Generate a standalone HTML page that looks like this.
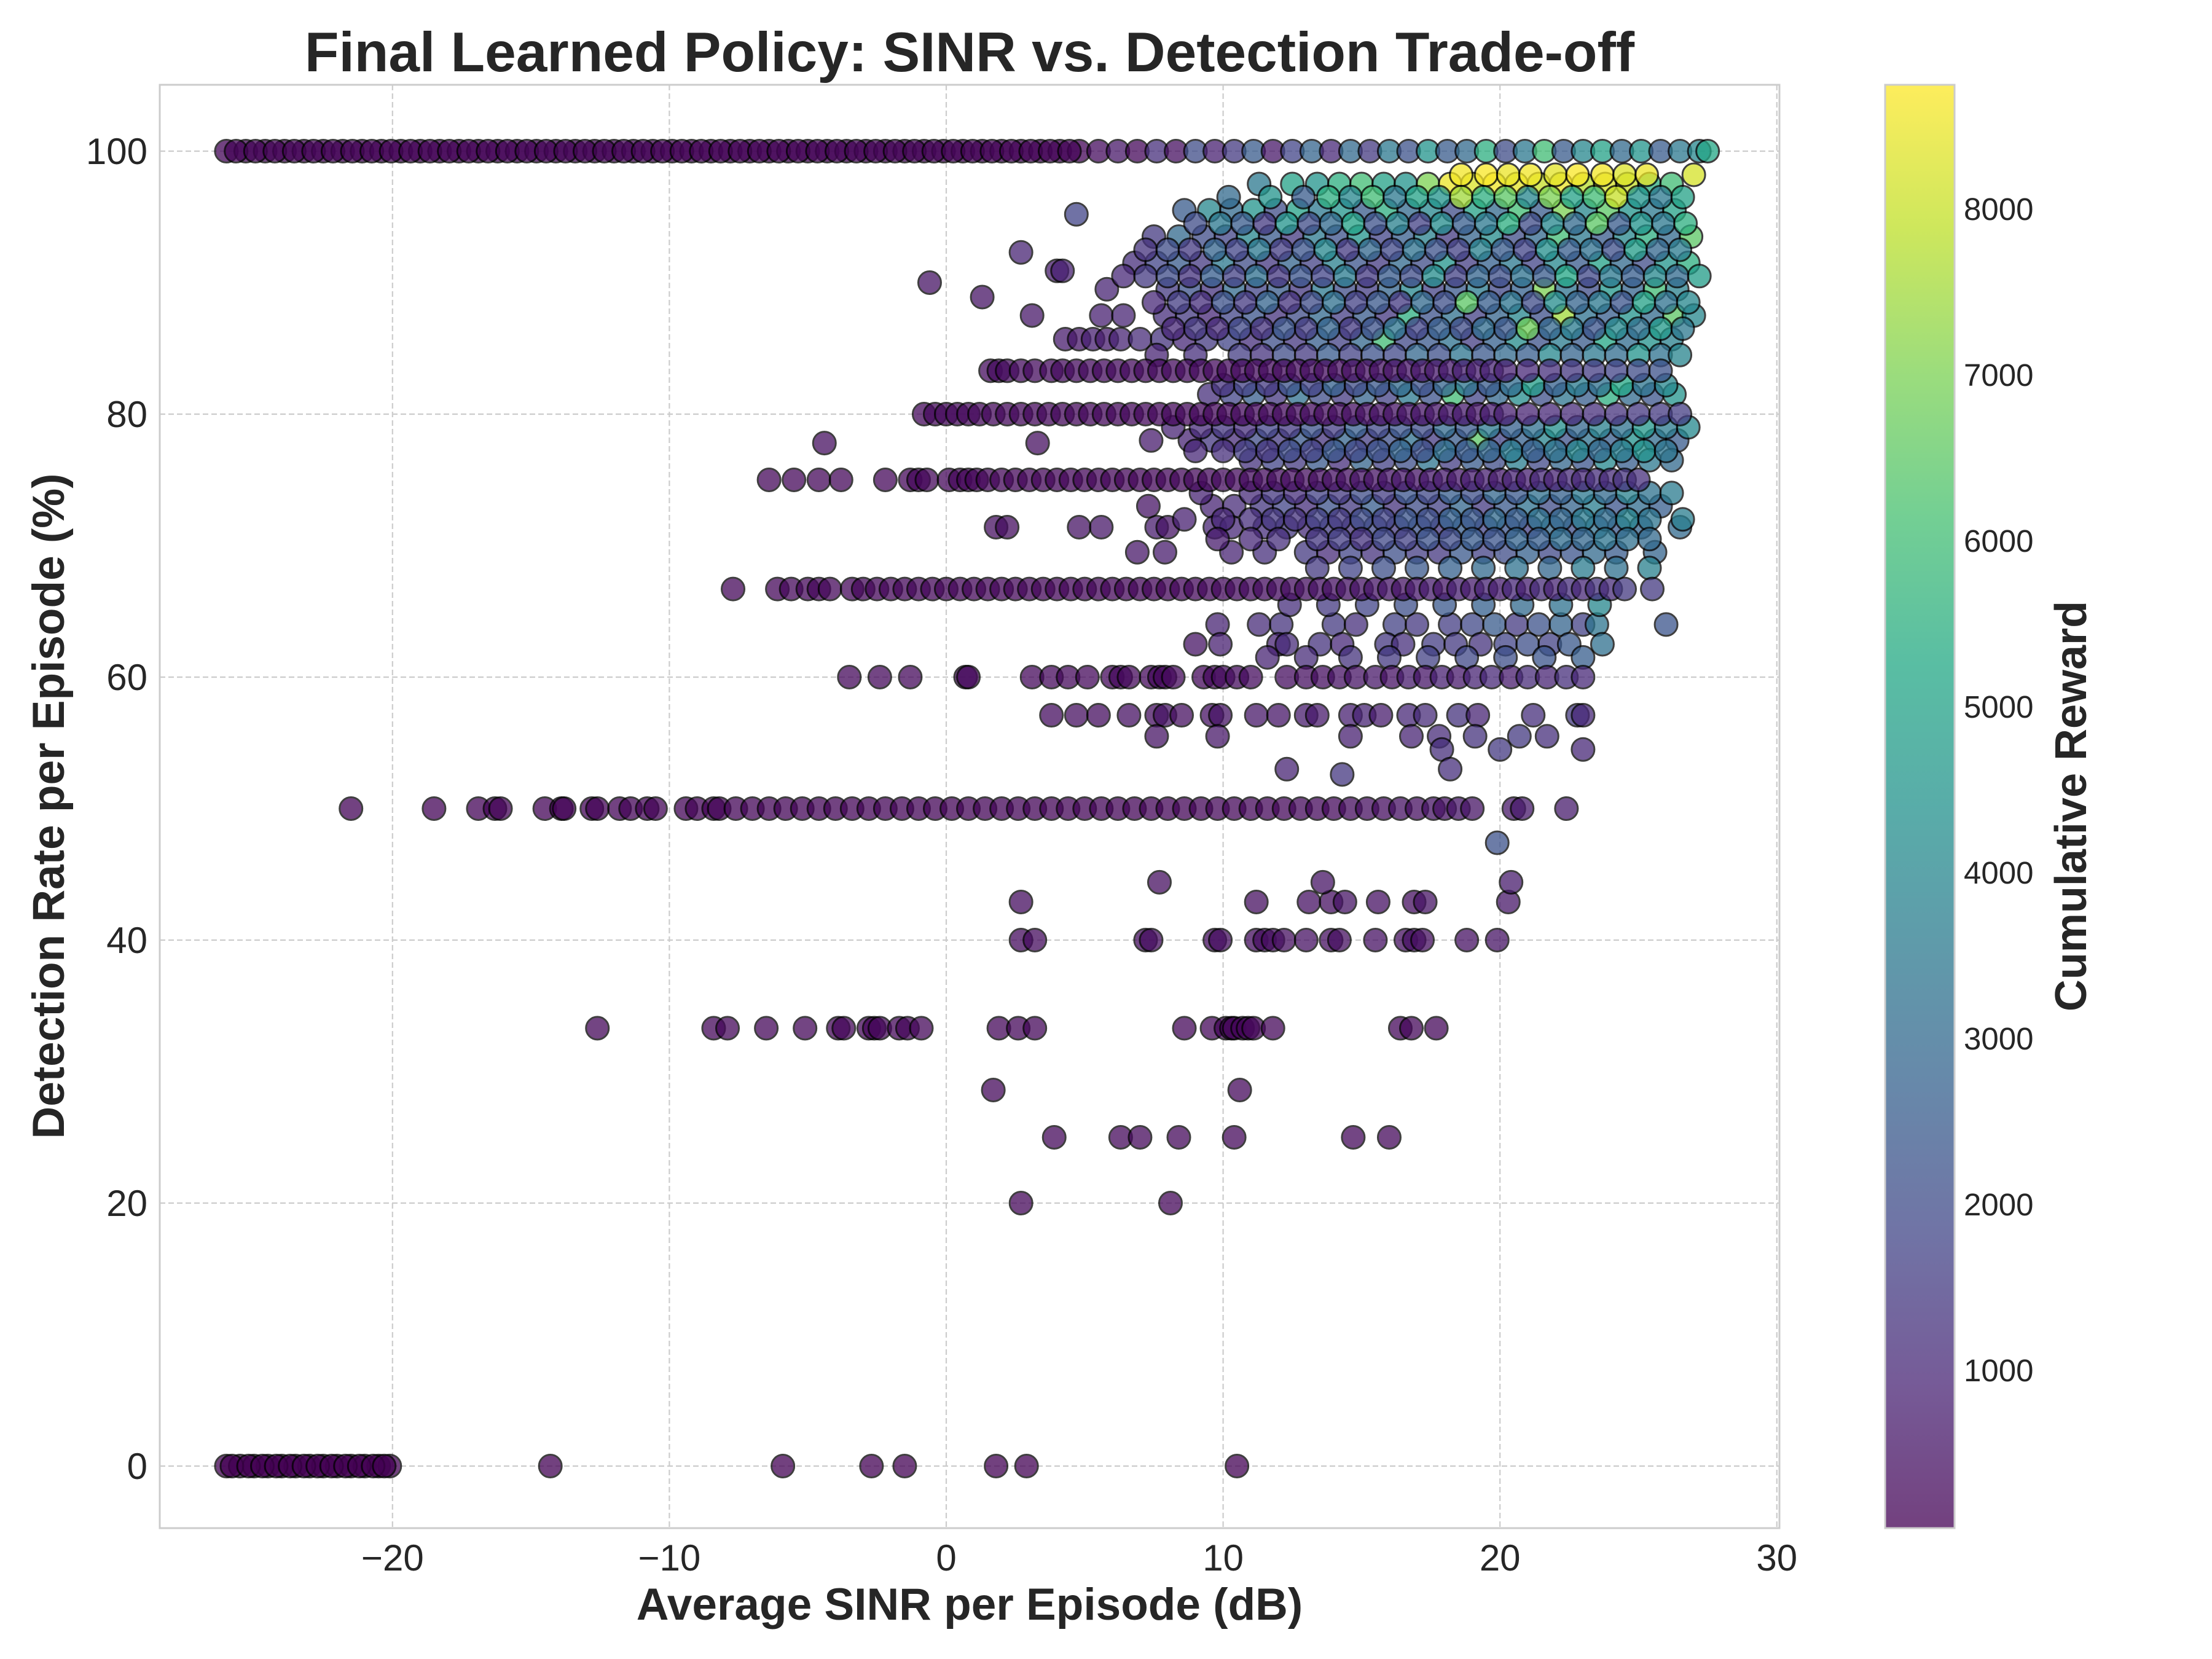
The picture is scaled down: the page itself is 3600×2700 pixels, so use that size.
<!DOCTYPE html>
<html><head><meta charset="utf-8"><title>SINR vs Detection</title>
<style>
html,body{margin:0;padding:0;background:#fff;}
svg{display:block;}
text{font-family:"Liberation Sans",Arial,sans-serif;fill:#262626;}
</style></head>
<body>
<svg id="chart" width="3600" height="2700" viewBox="0 0 3600 2700" xmlns="http://www.w3.org/2000/svg">
<defs>
<linearGradient id="vir" x1="0" y1="1" x2="0" y2="0">
<stop offset="0" stop-color="#440154"/><stop offset="0.1" stop-color="#482475"/><stop offset="0.2" stop-color="#414487"/><stop offset="0.3" stop-color="#355f8d"/><stop offset="0.4" stop-color="#2a788e"/><stop offset="0.5" stop-color="#21918c"/><stop offset="0.6" stop-color="#22a884"/><stop offset="0.7" stop-color="#44bf70"/><stop offset="0.8" stop-color="#7ad151"/><stop offset="0.9" stop-color="#bddf26"/><stop offset="1" stop-color="#fde725"/>
</linearGradient>
<clipPath id="plotclip"><rect x="260" y="138" width="2636" height="2349"/></clipPath>
</defs>
<rect x="0" y="0" width="3600" height="2700" fill="#fff"/>
<g id="grid"></g>
<g id="points" clip-path="url(#plotclip)"></g>
<rect x="260" y="138" width="2636" height="2349" fill="none" stroke="#cccccc" stroke-width="3"/>
<g id="xticks"></g>
<g id="yticks"></g>
<text x="1578" y="116" font-size="91" font-weight="bold" text-anchor="middle">Final Learned Policy: SINR vs. Detection Trade-off</text>
<text x="1578" y="2636" font-size="73" font-weight="bold" text-anchor="middle">Average SINR per Episode (dB)</text>
<text transform="translate(104,1312) rotate(-90)" font-size="73" font-weight="bold" text-anchor="middle">Detection Rate per Episode (%)</text>
<rect x="3068" y="138" width="113" height="2349" fill="url(#vir)" opacity="0.75"/>
<rect x="3068" y="138" width="113" height="2349" fill="none" stroke="#cccccc" stroke-width="3"/>
<g id="cticks"></g>
<text transform="translate(3395,1312) rotate(-90)" font-size="72" font-weight="bold" text-anchor="middle">Cumulative Reward</text>
</svg>
<script>
const xTicks=[-20,-10,0,10,20,30];
const yTicks=[0,20,40,60,80,100];
const cTicks=[1000,2000,3000,4000,5000,6000,7000,8000];
const rewardMin=48, rewardMax=8748;

// cluster rows (drawn first)
const clusterLevels=[97.5,98.2,95.5,93.5,91.5,89.5,87.5,85.7,81.5,78,76.5,73,71.4,69.5,64,62.5,57.1,55.5,54.5,53,52.6,47.4,90,88.9,92.3,90.9,95.2,77.8,
96.5,94.5,92.5,90.5,88.5,86.5,84.5,82.2,79,77.2,74,72,70.5,68.3,65.5,61.5];
const clusterSinr=[
[11.3,12.5,13.4,14.2,15,15.8,16.6,17.4,18.2,19,19.8,20.6,21.4,22.2,23,23.8,24.6,25.4,26.2],
[18.6,19.5,20.3,21.1,22,22.8,23.7,24.5,25.3,27],
[8.6,9.5,10.3,11.1,11.9,12.7,13.5,14.3,15.1,15.9,16.7,17.5,18.3,19.1,19.9,20.7,21.5,22.3,23.1,23.9,24.7,25.5,26.3],
[7.5,8.4,9.3,10.1,10.9,11.7,12.5,13.3,14.1,14.9,15.7,16.5,17.3,18.1,18.9,19.7,20.5,21.3,22.1,22.9,23.7,24.5,25.3,26.1,26.9],
[6.8,7.6,8.4,9.2,10,10.8,11.6,12.4,13.2,14,14.8,15.6,16.4,17.2,18,18.8,19.6,20.4,21.2,22,22.8,23.6,24.4,25.2,26,26.8],
[5.8,8,8.8,9.6,10.4,11.2,12,12.8,13.6,14.4,15.2,16,16.8,17.6,18.4,19.2,20,20.8,21.6,22.4,23.2,24,24.8,25.6,26.4],
[3.1,5.6,6.4,7.9,8.7,9.5,10.3,11.1,11.9,12.7,13.5,14.3,15.1,15.9,16.7,17.5,18.3,19.1,19.9,20.7,21.5,22.3,23.1,23.9,24.7,25.5,26.3,27],
[4.3,4.8,5.3,5.8,6.3,7,7.8,8.6,9.4,10.2,11,11.8,12.6,13.4,14.2,15,15.8,16.6,17.4,18.2,19,19.8,20.6,21.4,22.2,23,23.8,24.6,25.4,26.2],
[9.5,10.3,11.1,11.9,12.7,13.5,14.3,15.1,15.9,16.7,17.5,18.3,19.1,19.9,20.7,21.5,22.3,23.1,23.9,24.7,25.5,26.3],
[7.4,8.8,9.6,10.4,11.2,12,12.8,13.6,14.4,15.2,16,16.8,17.6,18.4,19.2,20,20.8,21.6,22.4,23.2,24,24.8,25.6,26.4],
[11,11.8,12.6,13.4,14.2,15,15.8,16.6,17.4,18.2,19,19.8,20.6,21.4,22.2,23,23.8,24.6,25.4,26.2],
[7.3,9.6,10.4,11.4,12.2,13,13.8,14.6,15.4,16.2,17,17.8,18.6,19.4,20.2,21,21.8,22.6,23.4,24.2,25,25.8],
[1.8,2.2,4.8,5.6,7.6,8,9.7,10.3,11.5,12.3,13.1,13.9,14.7,15.5,16.3,17.1,17.9,18.7,19.5,20.3,21.1,21.9,22.7,23.5,24.3,25.1,26.5],
[6.9,7.9,10.3,11.5,13,13.8,14.6,15.4,16.2,17,17.8,18.6,19.4,20.2,21,21.8,22.6,23.4,24.2,25.6],
[9.8,11.3,12.1,14,14.8,16.2,17,18.2,19,19.8,20.6,21.4,22.2,23,23.5,26],
[9,9.9,12,12.3,13.5,14.3,15.9,16.5,17.6,18.4,19.3,20.2,21,21.8,22.5,23.7],
[3.8,4.7,5.5,6.6,7.6,7.9,8.5,9.6,9.9,11.2,12,13,13.4,14.6,15.1,15.7,16.7,17.3,18.5,19.2,21.2,22.8,23],
[7.6,9.8,14.6,16.8,17.8,19.1,20.7,21.7],
[17.9,20,23],
[12.3,18.2],
[14.3],
[19.9],
[-0.6],[1.3],[2.7],[4,4.2],[4.7],[-4.4,3.3],
[10.2,11.7,12.9,13.8,14.6,15.4,16.2,17,17.8,18.6,19.4,20.2,21,21.8,22.6,23.4,24.2,25,25.8,26.6],
[9,9.9,10.7,11.5,12.3,13.1,13.9,14.7,15.5,16.3,17.1,17.9,18.7,19.5,20.3,21.1,21.9,22.7,23.5,24.3,25.1,25.9,26.7],
[7.2,8,8.8,9.7,10.5,11.3,12.1,12.9,13.7,14.5,15.3,16.1,16.9,17.7,18.5,19.3,20.1,20.9,21.7,22.5,23.3,24.1,24.9,25.7,26.5],
[6.4,7.2,8,8.8,9.6,10.4,11.2,12,12.8,13.6,14.4,15.2,16,16.8,17.6,18.4,19.2,20,20.8,21.6,22.4,23.2,24,24.8,25.6,26.4,27.2],
[7.5,8.4,9.2,10,10.8,11.6,12.4,13.2,14,14.8,15.6,16.4,17.2,18,18.8,19.6,20.4,21.2,22,22.8,23.6,24.4,25.2,26,26.8],
[8.2,9,9.8,10.6,11.4,12.2,13,13.8,14.6,15.4,16.2,17,17.8,18.6,19.4,20.2,21,21.8,22.6,23.4,24.2,25,25.8,26.6],
[7.6,9,10.6,11.4,12.2,13,13.8,14.6,15.4,16.2,17,17.8,18.6,19.4,20.2,21,21.8,22.6,23.4,24.2,25,25.8,26.5],
[10,10.8,11.6,12.4,13.2,14,14.8,15.6,16.4,17.2,18,18.8,19.6,20.4,21.2,22,22.8,23.6,24.4,25.2,26],
[8.2,9.2,10,10.8,11.6,12.4,13.2,14,14.8,15.6,16.4,17.2,18,18.8,19.6,20.4,21.2,22,22.8,23.6,24.4,25.2,26,26.8],
[9,10,10.8,11.6,12.4,13.2,14,14.8,15.6,16.4,17.2,18,18.8,19.6,20.4,21.2,22,22.8,23.6,24.4,25.2,26],
[9.2,11,11.8,12.6,13.4,14.2,15,15.8,16.6,17.4,18.2,19,19.8,20.6,21.4,22.2,23,23.8,24.6,25.4,26.2],
[8.6,10,11,11.8,12.6,13.4,14.2,15,15.8,16.6,17.4,18.2,19,19.8,20.6,21.4,22.2,23,23.8,24.6,25.4,26.6],
[9.8,11,12,13.4,14.2,15,15.8,16.6,17.4,18.2,19,19.8,20.6,21.4,22.2,23,23.8,24.6,25.4],
[13.4,14.6,15.8,17,18.2,19.4,20.6,21.8,23,24.2,25.4],
[12.4,13.8,15.2,16.6,18,19.4,20.8,22.2,23.6],
[11.6,13,14.6,16,17.4,18.8,20.2,21.6,23]
];
const clusterReward=[
[3500,5000,4500,5500,6000,5000,4500,7000,8500,8300,8600,8400,8000,8500,7800,8200,8000,5500,6000],
[8600,8700,8500,8600,8400,8700,8600,8300,8500,8200],
[2500,4000,3000,4500,2000,5000,3500,4500,2500,5500,3000,4000,2000,5000,3000,6000,2500,7000,4000,6500,4500,3500,5000],
[1500,3000,2000,1800,4000,2500,1500,3500,2200,4500,1800,2600,3800,1500,2800,4200,2000,3000,6000,3500,2500,4000,5500,3000,6500],
[1200,1800,2500,1500,3500,2000,1400,2800,1700,3800,2300,1500,3000,2000,4500,1600,2700,3500,1800,4000,2500,5000,3000,2000,4500,5500],
[900,1500,2200,1300,3000,1800,2500,1400,3500,2000,1600,2800,4000,1700,2400,3600,1900,2700,7000,3300,2000,4600,2800,6000,3800],
[600,800,900,1200,1500,1000,1800,2300,1300,2000,3000,1600,2500,1400,5500,2200,3200,1700,2800,4000,2100,7500,3300,2600,4500,3000,6500,4000],
[700,600,800,700,900,1100,1300,1000,1500,1800,1200,2100,1400,2600,1700,2900,6000,1900,2400,3300,1600,2700,4200,2200,3600,2500,5200,3100,4400,3800],
[1200,1800,2600,1400,3200,2000,1500,2800,1700,3500,2200,6000,1800,2900,4200,2100,3400,2600,5500,3000,2300,4500],
[700,900,1400,1100,2000,1500,2400,1300,2800,1600,2100,3200,1500,2500,6500,1800,2700,3900,2200,3300,2600,4400,3100,2500],
[1300,1800,1500,2400,1200,2800,1700,2100,3400,1600,2500,2000,3700,1900,2900,2300,4100,2600,3500,3000],
[500,900,1100,1400,1800,1200,2200,1500,2600,1300,2000,1700,2900,1500,2400,3300,2000,2800,3700,2300,3100,2600],
[400,350,500,600,700,500,900,1000,1200,1400,1100,1600,1300,1900,1500,2200,1400,2600,1800,2300,1700,2900,2100,3200,2400,2800,3000],
[600,700,900,1200,1500,1100,1800,1300,2100,1600,1400,2400,1700,2000,2700,1900,2300,3000,2500,2800],
[900,1100,1300,1500,1200,1700,1400,1600,1900,2500,1500,2200,2800,1700,3400,2300],
[500,800,900,1100,1300,1000,1400,1200,1600,1500,1300,1800,2100,1700,2400,3200],
[350,400,350,450,400,500,400,450,500,600,550,700,650,800,900,700,1000,1100,1300,900,1200,1500,1000],
[500,600,800,900,1100,1300,1500,1200],
[1200,1500,1000],
[900,1200],[1400],[2200],
[500],[500],[900],[700,800],[1800],[400,400],
[3000,4500,2500,5500,4000,6000,3500,5000,4500,7500,5500,6500,4000,7000,5000,6000,8000,4500,3500,5000],
[2000,3500,2500,1500,4500,2000,3000,5000,2200,3800,1700,4200,2600,3500,5500,2000,4000,3000,6500,2500,4500,3500,5500],
[1300,2000,1500,2800,1800,3500,1600,2300,4000,1500,2900,1900,3300,2200,1700,3800,2500,1800,4300,2600,3200,2100,4800,2900,3600],
[1000,1500,2000,1300,2600,1700,3200,1400,2300,1800,3600,1500,2500,2000,4200,1700,2800,2100,3300,2500,5200,1900,3500,2600,4000,3000,4800],
[1000,1600,1200,2200,1500,2800,1300,2000,3200,1700,2400,1500,3000,2100,6500,2600,3400,2000,4200,2800,3500,2300,5000,3300,4000],
[1000,1400,1100,1900,1300,2300,1600,2800,1500,2200,3400,1800,2600,2000,3100,2400,6800,2900,3600,2300,4100,3200,4700,3500],
[900,1200,1600,1300,2000,1500,2500,1700,2200,1900,2900,2100,3400,2400,3000,2600,4000,2800,3500,3100,4500,3300,3900],
[1300,1700,1500,2200,1800,2700,2000,2400,3000,2200,2800,3400,2500,3100,4800,2700,3600,3200,5200,3400,4000],
[900,1100,1400,1200,1800,1500,2200,1600,2600,1900,2300,2000,3000,2400,3500,2700,3200,4300,2900,3800,3300,4600,3600,4100],
[1000,1200,1600,1400,2000,1700,2400,1900,2200,2800,2100,3200,2500,2900,3600,2700,3300,4000,3000,3700,4400,3400],
[900,1100,1400,1200,1700,1500,2000,1600,2300,1900,2600,2100,2900,2400,3200,2700,3500,3000,3800,3300,3600],
[800,1000,1200,1400,1300,1700,1500,2000,1800,2300,2100,2700,2400,3000,2600,3300,2900,3600,3100,3900,3400,3700],
[700,1000,1200,1400,1600,1300,1900,1700,2200,2000,2500,2300,2800,2600,3100,2900,3400,3200,3000],
[1500,1800,2100,2400,2700,3000,3300,2900,3600,3200,3800],
[1200,1500,1800,2100,2400,2700,3000,3300,4000],
[900,1100,1300,1500,1700,1900,2100,2300,2600]
];

// discrete purple rows (drawn over cluster)
const rowLevels=[0,33.3,25,20,28.6,40,42.9,44.4,50,60,66.7,75,80,83.3,100,100,0];
const rowSinr=[
[-26,-25.5,-25,-24.5,-24,-23.5,-23,-22.5,-22,-21.5,-21,-20.5,-20.1,-14.3,-5.9,-2.7,-1.5,1.8,2.9,10.5],
[-12.6,-8.4,-7.9,-6.5,-5.1,-3.9,-3.7,-2.8,-2.6,-2.4,-1.7,-1.4,-0.9,1.9,2.6,3.2,8.6,9.6,10.1,10.3,10.4,10.7,10.9,11.1,11.8,16.4,16.8,17.7],
[3.9,6.3,7,8.4,10.4,14.7,16],
[2.7,8.1],
[1.7,10.6],
[2.7,3.2,7.2,7.4,9.7,9.9,11.2,11.5,11.8,12.2,13,13.9,14.2,15.5,16.6,16.9,17.2,18.8,19.9],
[2.7,11.2,13.1,13.9,14.4,15.6,16.9,17.3,20.3],
[7.7,13.6,20.4],
[-21.5,-18.5,-16.9,-16.3,-16.1,-14.5,-13.9,-13.8,-12.8,-12.6,-11.8,-11.4,-10.8,-10.5,-9.4,-9,-8.4,-8.2,-7.6,-7,-6.4,-5.8,-5.2,-4.6,-4,-3.4,-2.8,-2.2,-1.6,-1,-0.4,0.2,0.8,1.4,2,2.6,3.2,3.8,4.4,5,5.6,6.2,6.8,7.4,8,8.6,9.2,9.8,10.4,11,11.6,12.2,12.8,13.4,14,14.6,15.2,15.8,16.4,17,17.6,18,18.5,19,20.5,20.8,22.4],
[-3.5,-2.4,-1.3,0.7,0.8,3.1,3.8,4.4,5.1,6,6.3,6.6,7.4,7.7,7.9,8.2,9.3,9.7,10,10.5,11,12.3,13,13.6,14.2,14.8,15.5,16.1,16.7,17.3,17.9,18.5,19.1,19.7,20.4,21,21.7,22.4,23],
[-7.7,-6.1,-5.6,-5,-4.6,-4.2,-3.4,-3,-2.5,-2,-1.5,-1,-0.5,0,0.5,1,1.5,2,2.5,3,3.5,4,4.5,5,5.5,6,6.5,7,7.5,8,8.5,9,9.5,10,10.5,11,11.5,12,12.5,13,13.5,14,14.5,15,15.5,16,16.5,17,17.5,18,18.5,19,19.5,20,20.5,21,21.5,22,22.5,23,23.5,24,24.5,25.5],
[-6.4,-5.5,-4.6,-3.8,-2.2,-1.3,-1,-0.7,0.1,0.5,0.8,1.1,1.5,2,2.5,3,3.5,4,4.5,5,5.5,6,6.5,7,7.5,8,8.5,9,9.5,10,10.5,11,11.5,12,12.5,13,13.5,14,14.5,15,15.5,16,16.5,17,17.5,18,18.5,19,19.5,20,20.5,21,21.5,22,22.5,23,23.5,24,24.5,25],
[-0.8,-0.4,0,0.4,0.8,1.2,1.7,2.2,2.7,3.2,3.7,4.2,4.7,5.2,5.7,6.2,6.7,7.2,7.7,8.2,8.7,9.2,9.7,10.2,10.7,11.2,11.7,12.2,12.7,13.2,13.7,14.2,14.7,15.2,15.7,16.2,16.7,17.2,17.7,18.2,18.7,19.2,19.7,20.2,21,21.8,22.6,23.4,24.2,25,25.8,26.5],
[1.6,1.9,2.2,2.7,3.2,3.8,4.2,4.7,5.2,5.7,6.2,6.7,7.2,7.7,8.2,8.7,9.2,9.7,10.2,10.7,11.2,11.7,12.2,12.7,13.2,13.7,14.2,14.7,15.2,15.7,16.2,16.7,17.2,17.7,18.2,18.7,19.2,19.7,20.2,21,21.8,22.6,23.4,24.2,25,25.8],
[-26,-25.3,-24.6,-23.9,-23.2,-22.5,-21.8,-21.1,-20.4,-19.7,-19,-18.3,-17.6,-16.9,-16.2,-15.5,-14.8,-14.1,-13.4,-12.7,-12,-11.3,-10.6,-9.9,-9.2,-8.5,-7.8,-7.1,-6.4,-5.7,-5,-4.3,-3.6,-2.9,-2.2,-1.5,-0.8,-0.1,0.6,1.3,2,2.7,3.4,4.1,4.8,5.5,6.2,6.9,7.6,8.3,9,9.7,10.4,11.1,11.8,12.5,13.2,13.9,14.6,15.3,16,16.7,17.4,18.1,18.8,19.5,20.2,20.9,21.6,22.3,23,23.7,24.4,25.1,25.8,26.5,27.2,27.5],
[-25.65,-24.95,-24.25,-23.55,-22.85,-22.15,-21.45,-20.75,-20.05,-19.35,-18.65,-17.95,-17.25,-16.55,-15.85,-15.15,-14.45,-13.75,-13.05,-12.35,-11.65,-10.95,-10.25,-9.55,-8.85,-8.15,-7.45,-6.75,-6.05,-5.35,-4.65,-3.95,-3.25,-2.55,-1.85,-1.15,-0.45,0.25,0.95,1.65,2.35,3.05,3.75,4.45],
[-25.8,-25.2,-24.7,-24.2,-23.7,-23.2,-22.7,-22.2,-21.7,-21.2,-20.7,-20.3]
];
const rowReward=[
[80],
[200],
[250],
[200],
[250],
[300,300,350,350,350,400,350,400,350,400,450,400,400,450,400,450,400,450,500],
[350,400,450,400,500,450,400,500,600],
[400,500,700],
[120,120,120,120,120,120,120,120,120,120,120,120,120,120,120,120,120,120,150,150,150,150,150,150,150,150,150,150,150,150,150,150,150,150,150,150,150,150,150,150,150,150,150,150,150,150,150,200,200,200,200,200,250,250,250,300,400,350,450,400,500,450,550,500,600,650,700],
[250,250,250,250,250,250,250,250,250,250,250,250,250,250,250,250,250,250,300,300,300,350,400,350,450,500,600,450,700,550,800,650,900,1000,700,1100,900,1200,1000],
[200,200,200,200,200,200,200,200,200,200,200,200,200,200,200,200,200,200,200,200,200,200,200,200,200,200,200,200,200,200,220,250,250,280,300,300,350,350,400,400,450,450,500,500,550,600,500,650,700,600,800,700,900,750,1000,800,1100,900,1200,1000,1300,1100,1500],
[200,200,200,200,200,200,200,200,200,200,200,200,200,200,200,200,200,200,200,200,200,200,200,200,200,220,240,260,280,300,300,320,350,350,380,400,400,450,450,500,500,550,600,550,650,700,650,750,800,700,900,800,1000,900,1100,1000,1200,1100,1300,1200],
[250,250,250,250,250,250,250,250,250,250,250,250,250,250,250,250,250,250,250,250,250,250,250,250,300,300,300,320,350,350,380,400,420,450,480,500,520,550,600,650,700,600,750,800,900,1000,1100,1200,1300,1400,1500,1600],
[300,300,300,300,300,300,300,300,300,300,300,300,300,300,300,300,300,300,300,300,300,300,320,340,360,380,400,420,450,480,500,550,600,650,700,800,750,900,850,1000,1200,1400,1600,1800,2000,2200],
[150,150,150,150,150,150,150,150,150,150,150,150,150,150,150,150,150,150,150,150,150,150,150,150,150,150,150,150,150,150,150,150,150,150,150,150,150,150,150,150,150,150,150,150,150,300,600,200,1200,400,2000,800,1500,2500,600,1800,2800,1000,3000,1500,3500,2200,4500,2500,3000,5500,2000,3500,6000,2500,4000,5000,3000,4500,2500,3500,4000,5200],
[120],
[60]
];

const NS="http://www.w3.org/2000/svg";
const X=v=>1540+45.06*v;
const Y=v=>2386-21.4*v;
const C=v=>2487-(v-rewardMin)/(rewardMax-rewardMin)*2349;
const vStops=[[68,1,84],[72,36,117],[65,68,135],[53,95,141],[42,120,142],[33,145,140],[34,168,132],[68,191,112],[122,209,81],[189,223,38],[253,231,37]];
function viridis(t){t=Math.max(0,Math.min(1,t));const f=t*10,i=Math.min(9,Math.floor(f)),u=f-i;const a=vStops[i],b=vStops[i+1];return `rgb(${Math.round(a[0]+(b[0]-a[0])*u)},${Math.round(a[1]+(b[1]-a[1])*u)},${Math.round(a[2]+(b[2]-a[2])*u)})`;}
function mk(tag,attrs,parent){const e=document.createElementNS(NS,tag);for(const k in attrs)e.setAttribute(k,attrs[k]);parent.appendChild(e);return e;}

const grid=document.getElementById('grid');
xTicks.forEach(t=>{const l=mk('line',{x1:X(t),x2:X(t),y1:138,y2:2487,stroke:'#cccccc','stroke-width':2.2,'stroke-dasharray':'9,5'},grid);

});
yTicks.forEach(t=>{const l=mk('line',{x1:260,x2:2896,y1:Y(t),y2:Y(t),stroke:'#cccccc','stroke-width':2.2,'stroke-dasharray':'9,5'},grid);

});

const xg=document.getElementById('xticks');
xTicks.forEach(t=>{const e=mk('text',{x:X(t),y:2556,'font-size':60,'text-anchor':'middle'},xg);e.textContent=(t<0?'\u2212'+(-t):''+t);

});
const yg=document.getElementById('yticks');
yTicks.forEach(t=>{const e=mk('text',{x:240,y:Y(t)+21,'font-size':60,'text-anchor':'end'},yg);e.textContent=''+t;

});
const cg=document.getElementById('cticks');
cTicks.forEach(t=>{const e=mk('text',{x:3196,y:C(t)+18,'font-size':51},cg);e.textContent=''+t;

});

const pg=document.getElementById('points');
function drawRows(levels,sinr,rew){
  levels.forEach((lv,i)=>{
    const xs=sinr[i],rs=rew[i];
    xs.forEach((xv,j)=>{
      const r=(rs[j]!==undefined)?rs[j]:rs[rs.length-1];
      const c=mk('circle',{cx:X(xv),cy:Y(lv),r:18.5,fill:viridis((r-rewardMin)/(rewardMax-rewardMin)),stroke:'#000','stroke-width':3,opacity:0.75},pg);
      
      
    });
  });
}
drawRows(clusterLevels,clusterSinr,clusterReward);
drawRows(rowLevels,rowSinr,rowReward);
</script>
</body></html>
